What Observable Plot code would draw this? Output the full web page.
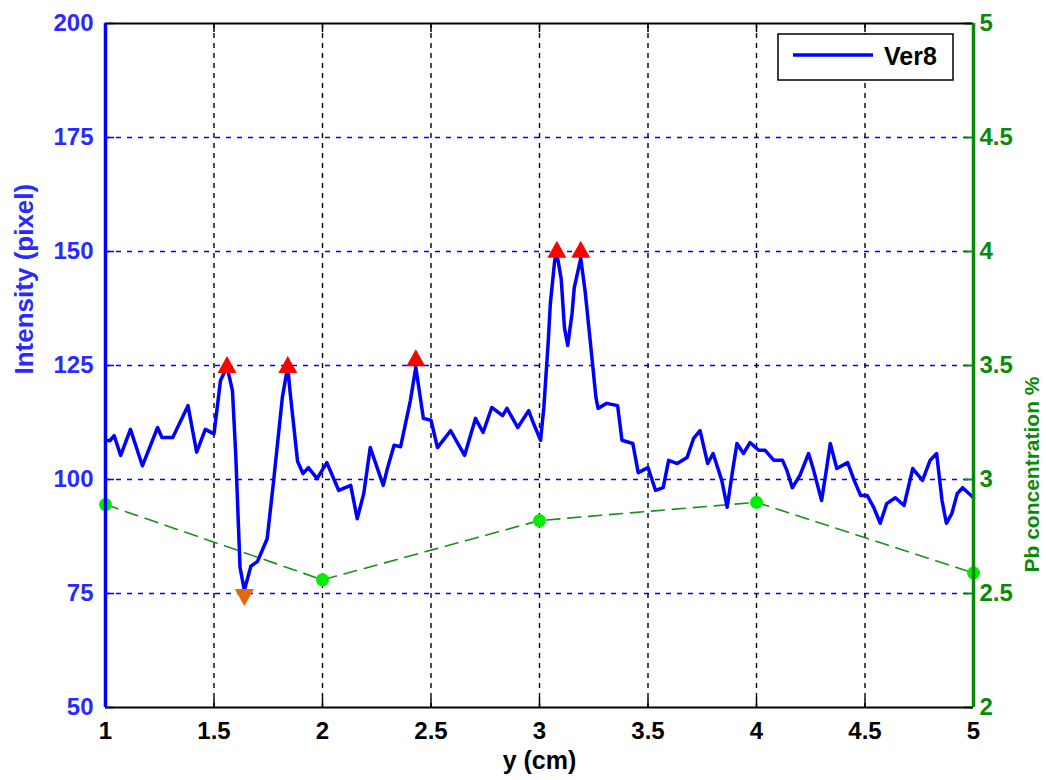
<!DOCTYPE html>
<html>
<head>
<meta charset="utf-8">
<script src="https://cdn.jsdelivr.net/npm/d3@7"></script>
<script src="https://cdn.jsdelivr.net/npm/@observablehq/plot@0.6"></script>
<style>
  body { margin: 0; background: #fff; }
  #chart { width: 1046px; height: 780px; }
</style>
</head>
<body>
<div id="chart"></div>
<script>
// ---- Data ----
const positions = [1.00,1.02,1.04,1.07,1.115,1.17,1.24,1.26,1.31,1.38,1.42,1.46,1.50,1.53,1.56,1.585,1.60,1.62,1.64,1.67,1.70,1.745,1.775,1.815,1.84,1.85,1.885,1.91,1.935,1.975,2.02,2.075,2.13,2.16,2.19,2.22,2.28,2.30,2.33,2.36,2.405,2.43,2.465,2.50,2.53,2.59,2.655,2.705,2.74,2.78,2.83,2.85,2.90,2.95,2.975,3.005,3.02,3.04,3.05,3.07,3.08,3.10,3.115,3.13,3.15,3.16,3.19,3.21,3.235,3.26,3.27,3.31,3.36,3.38,3.43,3.455,3.50,3.535,3.57,3.595,3.635,3.68,3.71,3.74,3.775,3.80,3.84,3.865,3.89,3.91,3.94,3.97,4.01,4.04,4.08,4.12,4.14,4.165,4.20,4.24,4.26,4.30,4.32,4.34,4.37,4.42,4.45,4.48,4.51,4.54,4.57,4.60,4.64,4.68,4.72,4.765,4.80,4.83,4.855,4.875,4.90,4.925,4.95,5.00];
const intensity = [108.6,108.5,109.6,105.3,111,103,111.4,109.2,109.2,116.2,106,111,110,121.7,124.8,119.5,105.7,80.7,75.7,81,82,87,99.8,118,124.8,119.5,104,101.3,102.6,100.2,103.7,97.6,98.7,91.4,96.9,107,98.7,102.6,107.5,107.2,117.3,124.6,113.4,113,107,110.7,105.3,113.4,110.3,115.8,114,115.6,111.4,115.1,112,108.6,115.8,130,138.6,148,149.5,144,133.3,129.4,136.4,142,148.5,141.4,129.8,118,115.6,116.7,116.2,108.6,107.9,101.5,102.6,97.6,98.2,104.2,103.5,104.8,109,110.7,103.5,105.7,99.8,93.9,102,107.9,105.7,108.1,106.4,106.4,104.2,104.2,102,98.2,100.9,105.7,102.6,95.4,101.5,107.9,102.4,103.7,99.8,96.5,96.5,93.9,90.4,94.7,96,94.3,102.4,99.8,104.2,105.7,95.4,90.4,92.5,96.9,98.2,96];

const peakX = [1.56, 1.84, 2.43, 3.08, 3.19];
const peakY = [125, 125, 126.5, 150.3, 150.3];
const valleyX = [1.64];
const valleyY = [74.3];

const pbX = [1, 2, 3, 4, 5];
const pbConc = [2.89, 2.56, 2.82, 2.90, 2.59];

const xTicks = [1, 1.5, 2, 2.5, 3, 3.5, 4, 4.5, 5];
const xTickLabels = ["1", "1.5", "2", "2.5", "3", "3.5", "4", "4.5", "5"];
const yTicks = [50, 75, 100, 125, 150, 175, 200];
const yTickLabels = ["50", "75", "100", "125", "150", "175", "200"];
const pbTickLabels = ["2", "2.5", "3", "3.5", "4", "4.5", "5"];
const pbDomain = [2, 5];
const yDomain = [50, 200];
const xDomain = [1, 5];

const seriesName = "Ver8";
const xLabel = "y (cm)";
const yLabel = "Intensity (pixel)";
const y2Label = "Pb concentration %";

// ---- Build tables ----
const profile = positions.map((x, i) => ({x, y: intensity[i]}));
const peaks = peakX.map((x, i) => ({x, y: peakY[i]}));
const valleys = valleyX.map((x, i) => ({x, y: valleyY[i]}));
// map Pb (right axis) into left-axis units
const toLeft = v => yDomain[0] + (v - pbDomain[0]) / (pbDomain[1] - pbDomain[0]) * (yDomain[1] - yDomain[0]);
const pb = pbX.map((x, i) => ({x, y: toLeft(pbConc[i])}));

const triUp = { draw(ctx, size) { const r = Math.sqrt(size / Math.PI); ctx.moveTo(0, -r); ctx.lineTo(r, 0.8 * r); ctx.lineTo(-r, 0.8 * r); ctx.closePath(); } };
const triDown = { draw(ctx, size) { const r = Math.sqrt(size / Math.PI); ctx.moveTo(0, r); ctx.lineTo(r, -0.8 * r); ctx.lineTo(-r, -0.8 * r); ctx.closePath(); } };

const W = 1046, H = 780, mL = 105, mR = 73, mT = 23, mB = 73;
const fw = W - mL - mR, fh = H - mT - mB, tk = 9;
const FONT = "'Liberation Sans', Arial, Helvetica, sans-serif";
const BLUE = "#0000ff", GREEN = "#0a8a0a", LABELBLUE = "#2a2aff";

const inner = yTicks.slice(1, -1);
const innerX = xTicks.slice(1, -1);

const chart = Plot.plot({
  width: W, height: H,
  marginLeft: mL, marginRight: mR, marginTop: mT, marginBottom: mB,
  style: { fontFamily: FONT, fontSize: "24px", fontWeight: "bold", background: "#fff", overflow: "visible" },
  x: { domain: xDomain, axis: null },
  y: { domain: yDomain, axis: null },
  marks: [
    // grid
    Plot.ruleY(inner, { stroke: BLUE, strokeWidth: 1.4, strokeDasharray: "5,6" }),
    Plot.ruleX(innerX, { stroke: "#000", strokeWidth: 1.4, strokeDasharray: "5,5" }),
    // inward ticks
    Plot.ruleX(xTicks, { stroke: "#000", strokeWidth: 1.5, insetTop: fh - tk }),
    Plot.ruleX(xTicks, { stroke: "#000", strokeWidth: 1.5, insetBottom: fh - tk }),
    Plot.ruleY(yTicks, { stroke: BLUE, strokeWidth: 1.5, insetRight: fw - tk }),
    Plot.ruleY(yTicks, { stroke: GREEN, strokeWidth: 2, insetLeft: fw - tk }),
    // Pb concentration series
    Plot.line(pb, { x: "x", y: "y", stroke: "#1b8f1b", strokeWidth: 1.6, strokeDasharray: "13,8" }),
    Plot.dot(pb, { x: "x", y: "y", symbol: "circle", r: 6.5, fill: "#00ee00", stroke: "none" }),
    // intensity profile
    Plot.line(profile, { x: "x", y: "y", stroke: BLUE, strokeWidth: 3.5, curve: "linear" }),
    Plot.dot(peaks, { x: "x", y: "y", symbol: triUp, r: 9.5, fill: "#ff0000", stroke: "none" }),
    Plot.dot(valleys, { x: "x", y: "y", symbol: triDown, r: 9.5, fill: "#e8690c", stroke: "none" }),
    // frame
    Plot.ruleY([yDomain[1]], { stroke: "#000", strokeWidth: 2 }),
    Plot.ruleY([yDomain[0]], { stroke: "#000", strokeWidth: 2 }),
    Plot.ruleX([xDomain[0]], { stroke: BLUE, strokeWidth: 3.5 }),
    Plot.ruleX([xDomain[1]], { stroke: GREEN, strokeWidth: 3.5 }),
    // axes (labels only)
    Plot.axisX(xTicks, { anchor: "bottom", tickSize: 0, tickPadding: 14, label: null, fill: "#000",
      tickFormat: d => xTickLabels[xTicks.indexOf(d)] }),
    Plot.axisY(yTicks, { anchor: "left", tickSize: 0, tickPadding: 12, label: null, fill: LABELBLUE,
      tickFormat: d => yTickLabels[yTicks.indexOf(d)] }),
    Plot.axisY(yTicks, { anchor: "right", tickSize: 0, tickPadding: 6, label: null, fill: GREEN,
      tickFormat: d => pbTickLabels[yTicks.indexOf(d)] }),
    // axis titles
    Plot.text([xLabel], { frameAnchor: "bottom", dy: 61, fontSize: 25, fontWeight: "bold", fill: "#000" }),
    Plot.text([yLabel], { frameAnchor: "left", dx: -81, dy: 9, rotate: -90, fontSize: 26, fontWeight: "bold", fill: LABELBLUE }),
    Plot.text([y2Label], { frameAnchor: "right", dx: 59, dy: 11, rotate: -90, fontSize: 21, fontWeight: "bold", fill: GREEN })
  ]
});

document.getElementById("chart").appendChild(chart);

// legend box (inside the plot, top right)
const svg = d3.select(chart);
const lg = svg.append("g").attr("font-family", FONT).attr("text-anchor", "start");
lg.append("rect").attr("x", 778).attr("y", 34).attr("width", 175).attr("height", 46)
  .attr("fill", "#fff").attr("stroke", "#000").attr("stroke-width", 1.5);
lg.append("line").attr("x1", 793).attr("x2", 873).attr("y1", 55).attr("y2", 55)
  .attr("stroke", BLUE).attr("stroke-width", 3.5);
lg.append("text").attr("x", 884).attr("y", 65).attr("text-anchor", "start").attr("font-size", 25).attr("font-weight", "bold")
  .attr("fill", "#000").text(seriesName);
</script>
</body>
</html>
